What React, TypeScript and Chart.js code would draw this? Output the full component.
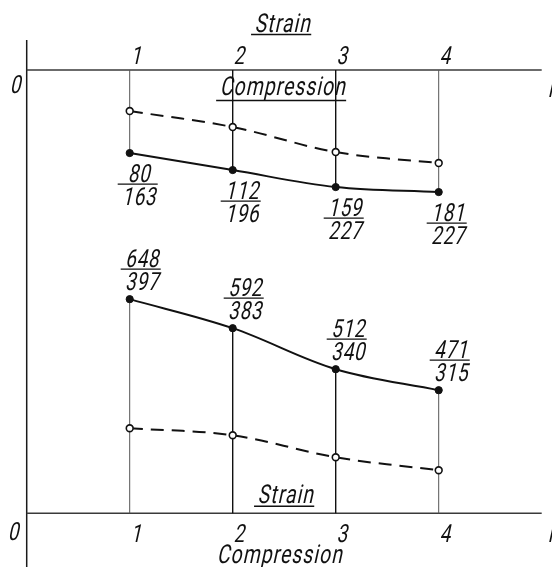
import { useEffect, useRef } from 'react';
import { Chart, registerables } from 'chart.js';

Chart.register(...registerables);

// ---- data ----
const positions = [1, 2, 3, 4];
const tickLabels = ['1', '2', '3', '4'];
// upper panel (values measured downward from the upper axis)
const upperSolid = [83, 100, 117, 122];
const upperDashed = [41, 57, 82, 93];
const upperNum = ['80', '112', '159', '181'];
const upperDen = ['163', '196', '227', '227'];
// lower panel (values measured upward from the lower axis)
const lowerSolid = [214, 185, 144, 123];
const lowerDashed = [85, 78, 56, 43];
const lowerNum = ['648', '592', '512', '471'];
const lowerDen = ['397', '383', '340', '315'];

const X_MAX = 5;
const Y_MAX = 443;

const FAMILY = 'Roboto, "Liberation Sans", sans-serif';
const SKEW = 0.22;
const fontOf = (size: number) => `400 ${size}px ${FAMILY}`;

function setFont(ctx: CanvasRenderingContext2D, size: number, ls: number) {
  ctx.font = fontOf(size);
  (ctx as any).letterSpacing = `${ls}px`;
}

function measure(ctx: CanvasRenderingContext2D, s: string, size: number, ls: number) {
  setFont(ctx, size, 0);
  return ctx.measureText(s).width + ls * s.length;
}

function txt(ctx: CanvasRenderingContext2D, s: string, x: number, y: number, size: number, sx: number, ls: number, align: 'left' | 'center') {
  const w = measure(ctx, s, size, ls) * sx;
  ctx.save();
  setFont(ctx, size, ls);
  ctx.textAlign = 'left';
  ctx.textBaseline = 'alphabetic';
  ctx.translate(align === 'center' ? x - w / 2 + (ls * sx) / 2 : x, y);
  ctx.transform(sx, 0, -SKEW, 1, 0, 0);
  ctx.fillText(s, 0, 0);
  ctx.restore();
  (ctx as any).letterSpacing = '0px';
  return w;
}

function seg(ctx: CanvasRenderingContext2D, x1: number, y1: number, x2: number, y2: number) {
  ctx.beginPath();
  ctx.moveTo(x1, y1);
  ctx.lineTo(x2, y2);
  ctx.stroke();
}

const drawingPlugin = {
  id: 'drawing',
  beforeDatasetsDraw(chart: any) {
    const { ctx, scales } = chart;
    const x = scales.x, yt = scales.yTop, yb = scales.yBot;
    const x0 = x.getPixelForValue(0), x1 = x.getPixelForValue(X_MAX);
    const y0t = yt.getPixelForValue(0), y0b = yb.getPixelForValue(0);
    ctx.save();
    ctx.lineCap = 'butt';
    ctx.strokeStyle = '#1a1a1a';
    ctx.lineWidth = 1.5;
    seg(ctx, x0, y0t - 30, x0, chart.height);
    ctx.strokeStyle = '#3a3a3a';
    ctx.lineWidth = 1.6;
    seg(ctx, x0, y0t, x1, y0t);
    seg(ctx, x0, y0b, x1, y0b);
    positions.forEach((p, i) => {
      const px = x.getPixelForValue(p);
      const inner = i === 1 || i === 2;
      ctx.strokeStyle = inner ? '#111' : '#555';
      ctx.lineWidth = inner ? 1.4 : 1;
      seg(ctx, px, y0t, px, yt.getPixelForValue(upperSolid[i]));
      seg(ctx, px, yb.getPixelForValue(lowerSolid[i]), px, y0b);
    });
    ctx.restore();
  },
  afterDatasetsDraw(chart: any) {
    const { ctx, scales } = chart;
    const x = scales.x, yt = scales.yTop, yb = scales.yBot;
    const x0 = x.getPixelForValue(0);
    const y0t = yt.getPixelForValue(0), y0b = yb.getPixelForValue(0);
    const xMid = x.getPixelForValue(2.48);
    ctx.save();
    ctx.fillStyle = '#111';
    ctx.strokeStyle = '#111';

    const TS = 26, TLS = 1.4;
    const tsx = 126 / measure(ctx, 'Compression', TS, TLS);
    const DS = 25, DLS = 1;
    const dsx = 34 / measure(ctx, '163', DS, DLS);

    const title = (s: string, cx: number, base: number, ul: number | null) => {
      const w = txt(ctx, s, cx, base, TS, tsx, TLS, 'center');
      if (ul !== null) {
        ctx.lineWidth = 1.5;
        seg(ctx, cx - w / 2 - 3, ul, cx + w / 2 + 1, ul);
      }
    };
    title('Strain', xMid, y0t - 38, y0t - 35.5);
    title('Compression', xMid, y0t + 25, y0t + 30.5);
    title('Strain', xMid + 3, y0b - 10, y0b - 7);
    title('Compression', xMid - 3, y0b + 50, null);

    positions.forEach((p, i) => {
      const px = x.getPixelForValue(p) + 6;
      txt(ctx, tickLabels[i], px, y0t - 6, DS, dsx, DLS, 'center');
      txt(ctx, tickLabels[i], px, y0b + 29, DS, dsx, DLS, 'center');
    });
    txt(ctx, '0', x0 - 17, y0t + 23, DS, dsx, DLS, 'left');
    txt(ctx, '0', x0 - 19, y0b + 27, DS, dsx, DLS, 'left');
    txt(ctx, 'i', x.getPixelForValue(X_MAX) + 6, y0t + 27, DS, dsx, DLS, 'left');
    txt(ctx, 'i', x.getPixelForValue(X_MAX) + 6, y0b + 29, DS, dsx, DLS, 'left');

    const fraction = (num: string, den: string, cx: number, barY: number) => {
      const w = Math.max(measure(ctx, num, DS, DLS), measure(ctx, den, DS, DLS)) * dsx;
      txt(ctx, num, cx + 1, barY - 2, DS, dsx, DLS, 'center');
      txt(ctx, den, cx + 1, barY + 20.5, DS, dsx, DLS, 'center');
      ctx.lineWidth = 1.3;
      seg(ctx, cx - w / 2 - 3, barY, cx + w / 2 + 3, barY);
    };
    positions.forEach((p, i) => {
      const px = x.getPixelForValue(p);
      fraction(upperNum[i], upperDen[i], px + 8, yt.getPixelForValue(upperSolid[i]) + 31);
      fraction(lowerNum[i], lowerDen[i], px + 11, yb.getPixelForValue(lowerSolid[i]) - 30);
    });
    ctx.restore();
  },
};

const toPts = (vals: number[]) => positions.map((p, i) => ({ x: p, y: vals[i] }));

export default function App() {
  const ref = useRef<HTMLCanvasElement>(null);
  useEffect(() => {
    if (!ref.current) return;
    const solid = {
      borderColor: '#111',
      borderWidth: 2,
      pointRadius: 3.6,
      pointBackgroundColor: '#111',
      pointBorderColor: '#111',
      pointBorderWidth: 1,
      tension: 0.35,
      clip: false as const,
    };
    const dashed = {
      borderColor: '#111',
      borderWidth: 2,
      borderDash: [13, 8],
      pointRadius: 3.4,
      pointBackgroundColor: '#fff',
      pointBorderColor: '#111',
      pointBorderWidth: 1.6,
      tension: 0.35,
      clip: false as const,
    };
    const chart = new Chart(ref.current, {
      type: 'line',
      data: {
        datasets: [
          { ...dashed, label: 'upper dashed', data: toPts(upperDashed), yAxisID: 'yTop' },
          { ...solid, label: 'upper solid', data: toPts(upperSolid), yAxisID: 'yTop' },
          { ...dashed, label: 'lower dashed', data: toPts(lowerDashed), yAxisID: 'yBot' },
          { ...solid, label: 'lower solid', data: toPts(lowerSolid), yAxisID: 'yBot' },
        ],
      },
      options: {
        animation: false,
        responsive: false,
        devicePixelRatio: 1,
        layout: { padding: { left: 26.7, right: 10.3, top: 70, bottom: 53.7 } },
        plugins: { legend: { display: false }, tooltip: { enabled: false } },
        scales: {
          x: { type: 'linear', min: 0, max: X_MAX, display: false },
          yTop: { type: 'linear', min: 0, max: Y_MAX, reverse: true, display: false },
          yBot: { type: 'linear', min: 0, max: Y_MAX, display: false },
        },
      },
      plugins: [drawingPlugin],
    });
    return () => chart.destroy();
  }, []);
  return (
    <div style={{ position: 'fixed', left: 0, top: 0, width: 552, height: 567, background: '#fff' }}>
      <canvas ref={ref} width={552} height={567} style={{ display: 'block' }} />
    </div>
  );
}
